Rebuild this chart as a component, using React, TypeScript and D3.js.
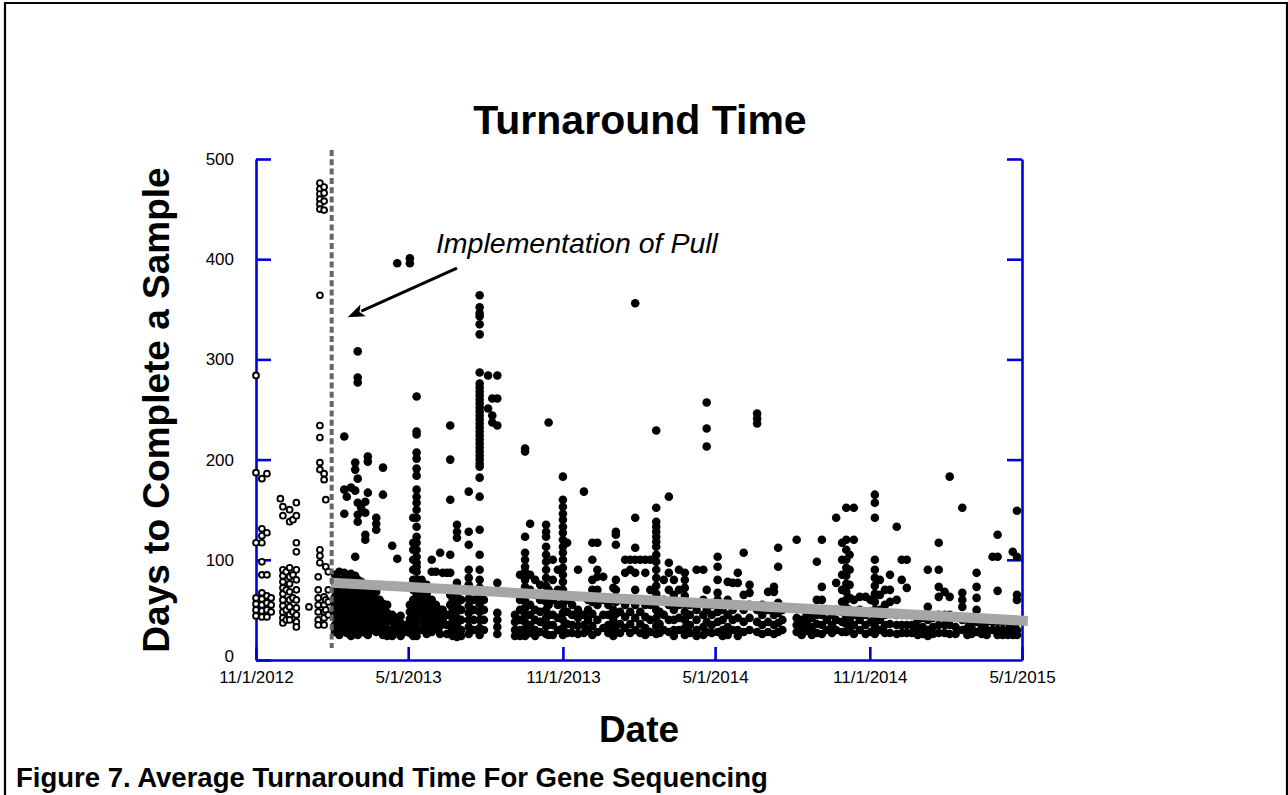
import React, { useEffect, useRef } from 'react';
import * as d3 from 'd3';

const W = 1288;
const H = 795;
const BLUE = '#0000dd';
const FONT = 'Liberation Sans, Arial, Helvetica, sans-serif';

// samples finished before the pull system (hollow markers): [date, days...]
const hollowSamples: [string, number[]][] = [
  ['2012-11-01', [284, 187, 117, 62, 56, 50, 44]],
  ['2012-11-08', [181, 131, 124, 117, 98, 85, 67, 61, 55, 49, 43]],
  ['2012-11-14', [186, 127, 85, 64, 57, 50, 43]],
  ['2012-11-19', [62, 55, 48]],
  ['2012-11-30', [161]],
  ['2012-12-03', [153, 144, 90, 84, 78, 72, 66, 60, 54, 48, 42, 37]],
  ['2012-12-07', [88, 70, 50, 40]],
  ['2012-12-11', [150, 138, 92, 83, 76, 68, 60, 53, 45, 40]],
  ['2012-12-15', [140, 85, 62, 48]],
  ['2012-12-19', [157, 144, 117, 108, 90, 80, 70, 60, 52, 45, 38, 33]],
  ['2013-01-03', [53]],
  ['2013-01-14', [83, 70, 62, 55, 48, 40, 35]],
  ['2013-01-16', [476, 470, 465, 460, 455, 450, 364, 234, 222, 197, 190, 110, 104, 97]],
  ['2013-01-21', [472, 466, 458, 449, 186, 180, 63, 55, 48, 42, 35]],
  ['2013-01-23', [160, 93, 60, 50]],
  ['2013-01-26', [88, 70, 58, 45]],
];

// samples finished after the pull system (filled markers)
const filledSamples: [string, number[]][] = [
  ['2013-02-03', [85, 77, 70, 63, 56, 49, 42, 35, 28]],
  ['2013-02-08', [88, 80, 72, 65, 58, 51, 44, 37, 30, 25]],
  ['2013-02-14', [223, 170, 146, 87, 80, 73, 66, 59, 52, 45, 38, 31]],
  ['2013-02-17', [163, 84, 76, 69, 62, 55, 48, 41, 34, 27]],
  ['2013-02-22', [172, 86, 78, 70, 62, 54, 46, 38, 30, 24]],
  ['2013-02-27', [197, 190, 169, 103, 84, 76, 68, 60, 52, 44, 36, 28]],
  ['2013-03-02', [308, 282, 277, 181, 157, 145, 138, 80, 72, 64, 56, 48, 40, 32, 25]],
  ['2013-03-06', [152, 78, 70, 62, 54, 46, 38, 30]],
  ['2013-03-11', [158, 147, 125, 120, 75, 67, 59, 51, 43, 35, 27]],
  ['2013-03-14', [203, 198, 167, 72, 64, 56, 48, 40, 32, 25]],
  ['2013-03-19', [70, 62, 54, 46, 38, 30]],
  ['2013-03-24', [142, 136, 130, 68, 60, 52, 44, 36, 28]],
  ['2013-03-28', [60, 52, 44, 36, 30]],
  ['2013-04-01', [192, 165, 56, 48, 40, 32, 25]],
  ['2013-04-06', [55, 47, 39, 31, 24]],
  ['2013-04-12', [114, 45, 38, 30, 24]],
  ['2013-04-18', [396, 101, 42, 35, 28]],
  ['2013-04-22', [44, 37, 30, 24]],
  ['2013-04-27', [35, 28]],
  ['2013-05-03', [401, 396, 55, 48, 41, 34, 27]],
  ['2013-05-07', [142, 117, 110, 100, 90, 80, 70, 60, 50, 40, 30, 24]],
  ['2013-05-11', [263, 228, 225, 207, 201, 191, 184, 170, 163, 157, 150, 142, 133, 123, 117, 110, 103, 97, 93, 88, 80, 73, 66, 59, 52, 45, 38, 31, 24]],
  ['2013-05-17', [80, 70, 62, 54, 46, 38, 30]],
  ['2013-05-23', [75, 66, 58, 50, 42, 34, 26]],
  ['2013-05-29', [100, 88, 60, 52, 44, 36, 28]],
  ['2013-06-03', [88, 55, 47, 39, 31]],
  ['2013-06-08', [107, 50, 42, 34, 26]],
  ['2013-06-11', [87, 50, 40]],
  ['2013-06-16', [87, 45, 35, 26]],
  ['2013-06-20', [234, 200, 160, 105, 87, 65, 55, 45, 35, 27]],
  ['2013-06-23', [60, 50, 40, 30, 24]],
  ['2013-06-28', [135, 128, 122, 77, 70, 63, 56, 49, 42, 35, 28, 23]],
  ['2013-07-03', [60, 50, 40, 30, 24]],
  ['2013-07-12', [168, 128, 115, 90, 82, 75, 68, 61, 54, 47, 40, 33, 26]],
  ['2013-07-18', [60, 50, 40, 30]],
  ['2013-07-25', [364, 352, 346, 343, 335, 325, 287, 276, 272, 268, 264, 260, 256, 252, 248, 244, 240, 236, 232, 228, 224, 220, 216, 212, 208, 204, 200, 196, 193, 182, 163, 130, 105, 90, 80, 72, 64, 56, 48, 40, 32, 25]],
  ['2013-07-30', [60, 50, 40, 30]],
  ['2013-08-04', [284, 251]],
  ['2013-08-09', [261, 244, 237]],
  ['2013-08-15', [284, 261, 234, 77, 47, 40, 33, 26]],
  ['2013-09-05', [45, 38, 30, 24]],
  ['2013-09-11', [85, 60, 50, 40, 30, 24]],
  ['2013-09-17', [211, 208, 123, 107, 100, 93, 88, 80, 73, 66, 59, 52, 45, 38, 31, 24]],
  ['2013-09-23', [136, 85, 70, 55, 45, 35, 27]],
  ['2013-09-29', [80, 65, 50, 40, 30, 24]],
  ['2013-10-05', [75, 60, 48, 38, 28]],
  ['2013-10-12', [135, 128, 123, 113, 105, 98, 90, 82, 74, 66, 58, 50, 42, 34, 26]],
  ['2013-10-15', [237, 70, 55, 45, 35, 25]],
  ['2013-10-20', [100, 80, 60, 45, 35, 25]],
  ['2013-10-26', [90, 70, 55, 42, 30]],
  ['2013-11-01', [183, 160, 153, 146, 140, 133, 127, 120, 113, 107, 100, 92, 85, 78, 70, 62, 55, 47, 40, 32, 25]],
  ['2013-11-06', [117, 60, 48, 36, 27]],
  ['2013-11-12', [55, 45, 35, 27]],
  ['2013-11-19', [90, 50, 42, 34, 26]],
  ['2013-11-26', [168, 45, 35, 27]],
  ['2013-12-01', [60, 50, 40, 30]],
  ['2013-12-06', [117, 100, 80, 70, 58, 46, 34, 25]],
  ['2013-12-12', [117, 90, 83, 70, 55, 40, 28]],
  ['2013-12-19', [83, 60, 45, 32]],
  ['2013-12-25', [55, 45, 35, 27]],
  ['2013-12-31', [72, 60, 50, 40, 30, 24]],
  ['2014-01-03', [128, 125, 115, 80, 70, 58, 46, 34]],
  ['2014-01-08', [60, 48, 36, 27]],
  ['2014-01-14', [100, 87, 55, 43, 32]],
  ['2014-01-20', [100, 90, 60, 48, 36, 27]],
  ['2014-01-26', [356, 142, 112, 100, 87, 70, 55, 42, 30]],
  ['2014-02-01', [100, 60, 48, 36, 27]],
  ['2014-02-07', [100, 87, 55, 43, 32, 25]],
  ['2014-02-13', [100, 70, 55, 40, 28]],
  ['2014-02-20', [229, 152, 138, 133, 128, 123, 118, 113, 105, 98, 90, 82, 74, 66, 58, 50, 42, 34, 26]],
  ['2014-02-24', [60, 48, 36, 27]],
  ['2014-03-01', [80, 60, 45, 30]],
  ['2014-03-07', [163, 97, 87, 70, 55, 40, 28]],
  ['2014-03-13', [80, 65, 50, 40, 30, 24]],
  ['2014-03-19', [90, 70, 55, 42, 30]],
  ['2014-03-26', [87, 80, 72, 64, 56, 48, 40, 32, 25]],
  ['2014-04-01', [55, 45, 35, 27]],
  ['2014-04-09', [90, 50, 40, 30, 24]],
  ['2014-04-17', [90, 60, 45, 33, 25]],
  ['2014-04-21', [257, 231, 213, 70, 50, 38, 28]],
  ['2014-04-27', [55, 45, 35, 27]],
  ['2014-05-04', [103, 93, 80, 67, 60, 48, 38, 28]],
  ['2014-05-10', [50, 40, 30, 24]],
  ['2014-05-16', [78, 60, 45, 33, 25]],
  ['2014-05-22', [77, 50, 40, 30]],
  ['2014-05-28', [87, 77, 55, 42, 30, 24]],
  ['2014-06-04', [107, 65, 50, 38, 28]],
  ['2014-06-11', [75, 67, 55, 42, 30]],
  ['2014-06-20', [246, 241, 236, 50, 38, 28]],
  ['2014-06-26', [55, 45, 35, 26]],
  ['2014-07-03', [68, 50, 38, 28]],
  ['2014-07-10', [73, 68, 45, 35, 26]],
  ['2014-07-15', [112, 93, 57, 47, 37, 28]],
  ['2014-07-20', [50, 40, 30]],
  ['2014-08-06', [120, 42, 35, 28]],
  ['2014-08-12', [40, 32, 25]],
  ['2014-08-18', [45, 37, 29]],
  ['2014-08-24', [42, 33, 25]],
  ['2014-08-30', [98, 60, 45, 36, 27]],
  ['2014-09-05', [120, 73, 60, 45, 35, 26]],
  ['2014-09-11', [50, 40, 30]],
  ['2014-09-17', [45, 35, 27]],
  ['2014-09-22', [142, 77, 50, 40, 30]],
  ['2014-09-29', [117, 100, 85, 70, 58, 48, 38, 28]],
  ['2014-10-04', [152, 120, 110, 100, 92, 84, 76, 68, 60, 52, 44, 36, 28]],
  ['2014-10-08', [105, 90, 75, 62, 50, 40, 30]],
  ['2014-10-13', [152, 120, 60, 45, 35, 26]],
  ['2014-10-20', [63, 50, 40, 30]],
  ['2014-10-27', [63, 45, 35, 26]],
  ['2014-11-02', [60, 48, 38, 28]],
  ['2014-11-07', [165, 157, 142, 100, 90, 82, 74, 66, 58, 50, 42, 34, 26]],
  ['2014-11-13', [80, 65, 50, 40, 30]],
  ['2014-11-19', [70, 55, 45, 35, 27]],
  ['2014-11-25', [85, 70, 58, 46, 36, 27]],
  ['2014-12-03', [133, 60, 45, 35, 26]],
  ['2014-12-09', [100, 80, 45, 35, 27]],
  ['2014-12-15', [100, 72, 45, 35, 27]],
  ['2014-12-21', [45, 35, 27]],
  ['2014-12-28', [40, 32, 25]],
  ['2015-01-03', [42, 33, 26]],
  ['2015-01-09', [90, 53, 40, 30, 24]],
  ['2015-01-15', [42, 33, 26]],
  ['2015-01-22', [117, 90, 73, 63, 45, 35, 27]],
  ['2015-01-29', [68, 45, 35, 27]],
  ['2015-02-04', [183, 63, 45, 35, 26]],
  ['2015-02-11', [42, 33, 26]],
  ['2015-02-19', [152, 67, 60, 53, 40, 30]],
  ['2015-02-25', [40, 32, 25]],
  ['2015-03-02', [40, 32, 26]],
  ['2015-03-08', [87, 73, 62, 50, 38, 28]],
  ['2015-03-14', [40, 32, 26]],
  ['2015-03-20', [38, 30, 25]],
  ['2015-03-27', [103, 38, 30]],
  ['2015-04-02', [125, 103, 69, 38, 30, 25]],
  ['2015-04-08', [38, 30, 25]],
  ['2015-04-14', [38, 30, 25]],
  ['2015-04-20', [108, 40, 32, 25]],
  ['2015-04-25', [149, 103, 65, 60, 38, 30, 25]],
];

// linear trend after the pull system
const trendDates = ['2013-01-30', '2015-05-08'];
const trendValues = [77, 39];

const pullDate = '2013-01-30';
const noteText = 'Implementation of Pull';
const notePos = { date: '2013-06-03', value: 406 };
const arrowFrom = { date: '2013-06-28', value: 391 };
const arrowTo = { date: '2013-02-18', value: 342 };

const xTickDates = ['2012-11-01', '2013-05-01', '2013-11-01', '2014-05-01', '2014-11-01', '2015-05-01'];
const xTickLabels = ['11/1/2012', '5/1/2013', '11/1/2013', '5/1/2014', '11/1/2014', '5/1/2015'];
const yTicks = [0, 100, 200, 300, 400, 500];

const App = () => {
  const svgRef = useRef<SVGSVGElement>(null);

  useEffect(() => {
    if (!svgRef.current) return;
    const parse = d3.timeParse('%Y-%m-%d');
    const svg = d3.select(svgRef.current);
    svg.selectAll('*').remove();

    const x = d3.scaleTime()
      .domain([parse(xTickDates[0])!, parse(xTickDates[xTickDates.length - 1])!])
      .range([256, 1022]);
    const y = d3.scaleLinear().domain([0, 500]).range([660, 159]);

    const flat = (cols: [string, number[]][]) =>
      cols.flatMap(([d, vs]) => vs.map(v => ({ date: parse(d)!, value: v })));

    svg.append('rect').attr('width', W).attr('height', H).attr('fill', '#fff');

    // figure frame (open at the bottom)
    svg.append('path')
      .attr('d', `M5,${H}V3H1287V${H}`)
      .attr('fill', 'none').attr('stroke', '#000').attr('stroke-width', 2.2);

    svg.append('text')
      .attr('x', 640).attr('y', 134)
      .attr('text-anchor', 'middle')
      .attr('font-family', FONT).attr('font-weight', 'bold').attr('font-size', 41)
      .text('Turnaround Time');

    // axes
    const styleAxis = (g: any) => {
      g.select('.domain').attr('stroke', BLUE).attr('stroke-width', 2.6);
      g.selectAll('.tick line').attr('stroke', BLUE).attr('stroke-width', 2.6);
      g.selectAll('.tick text').attr('fill', '#000')
        .attr('font-family', FONT).attr('font-size', 17);
      g.attr('font-family', null).attr('font-size', null);
    };

    svg.append('g')
      .attr('transform', 'translate(0,660)')
      .call(d3.axisBottom(x)
        .tickValues(xTickDates.map(d => parse(d)!))
        .tickSizeInner(-13).tickSizeOuter(0).tickPadding(11)
        .tickFormat((_d, i) => xTickLabels[i]))
      .call(styleAxis);

    const yAxisG = svg.append('g')
      .attr('transform', 'translate(256,0)')
      .call(d3.axisLeft(y).tickValues(yTicks)
        .tickSizeInner(-15).tickSizeOuter(0).tickPadding(22))
      .call(styleAxis);
    // the zero label sits a little above the corner
    yAxisG.selectAll<SVGTextElement, number>('.tick text')
      .filter(d => d === 0)
      .attr('dy', '0.1em');

    svg.append('g')
      .attr('transform', 'translate(1022,0)')
      .call(d3.axisRight(y).tickValues(yTicks.filter(v => v > 0))
        .tickSizeInner(-15).tickSizeOuter(0).tickFormat(() => ''))
      .call(styleAxis);

    // points
    svg.append('g').selectAll('circle')
      .data(flat(hollowSamples))
      .join('circle')
      .attr('cx', d => x(d.date)).attr('cy', d => y(d.value))
      .attr('r', 2.9).attr('fill', '#fff')
      .attr('stroke', '#000').attr('stroke-width', 1.9);

    svg.append('g').selectAll('circle')
      .data(flat(filledSamples))
      .join('circle')
      .attr('cx', d => x(d.date)).attr('cy', d => y(d.value))
      .attr('r', 4.3).attr('fill', '#000');

    // trend line
    const trend = trendDates.map((d, i) => ({ date: parse(d)!, value: trendValues[i] }));
    svg.append('path')
      .datum(trend)
      .attr('d', d3.line<{ date: Date; value: number }>().x(d => x(d.date)).y(d => y(d.value)))
      .attr('fill', 'none').attr('stroke', '#a6a6a6').attr('stroke-width', 10);

    // pull implementation marker
    const px = x(parse(pullDate)!);
    svg.append('line')
      .attr('x1', px).attr('x2', px)
      .attr('y1', 150).attr('y2', 648)
      .attr('stroke', '#666').attr('stroke-width', 4)
      .attr('stroke-dasharray', '6 3.3');

    svg.append('text')
      .attr('x', x(parse(notePos.date)!)).attr('y', y(notePos.value))
      .attr('font-family', FONT).attr('font-style', 'italic').attr('font-size', 28.5)
      .text(noteText);

    const ax0 = x(parse(arrowFrom.date)!), ay0 = y(arrowFrom.value);
    const ax1 = x(parse(arrowTo.date)!), ay1 = y(arrowTo.value);
    const len = Math.hypot(ax1 - ax0, ay1 - ay0);
    const ux = (ax1 - ax0) / len, uy = (ay1 - ay0) / len;
    const headL = 17, headW = 6.5;
    const bx = ax1 - ux * headL, by = ay1 - uy * headL;
    svg.append('line')
      .attr('x1', ax0).attr('y1', ay0).attr('x2', bx + ux * 2).attr('y2', by + uy * 2)
      .attr('stroke', '#000').attr('stroke-width', 3);
    svg.append('path')
      .attr('d', `M${ax1},${ay1}L${bx - uy * headW},${by + ux * headW}L${bx + ux * 4},${by + uy * 4}L${bx + uy * headW},${by - ux * headW}Z`)
      .attr('fill', '#000');

    // axis titles and caption
    svg.append('text')
      .attr('transform', 'translate(169,410) rotate(-90)')
      .attr('text-anchor', 'middle')
      .attr('font-family', FONT).attr('font-weight', 'bold').attr('font-size', 37)
      .text('Days to Complete a Sample');

    svg.append('text')
      .attr('x', 639).attr('y', 742)
      .attr('text-anchor', 'middle')
      .attr('font-family', FONT).attr('font-weight', 'bold').attr('font-size', 37)
      .text('Date');

    svg.append('text')
      .attr('x', 16).attr('y', 787)
      .attr('font-family', FONT).attr('font-weight', 'bold').attr('font-size', 27.5)
      .text('Figure 7. Average Turnaround Time For Gene Sequencing');
  }, []);

  return (
    <div style={{ position: 'absolute', left: 0, top: 0 }}>
      <svg ref={svgRef} width={W} height={H} />
    </div>
  );
};

export default App;
